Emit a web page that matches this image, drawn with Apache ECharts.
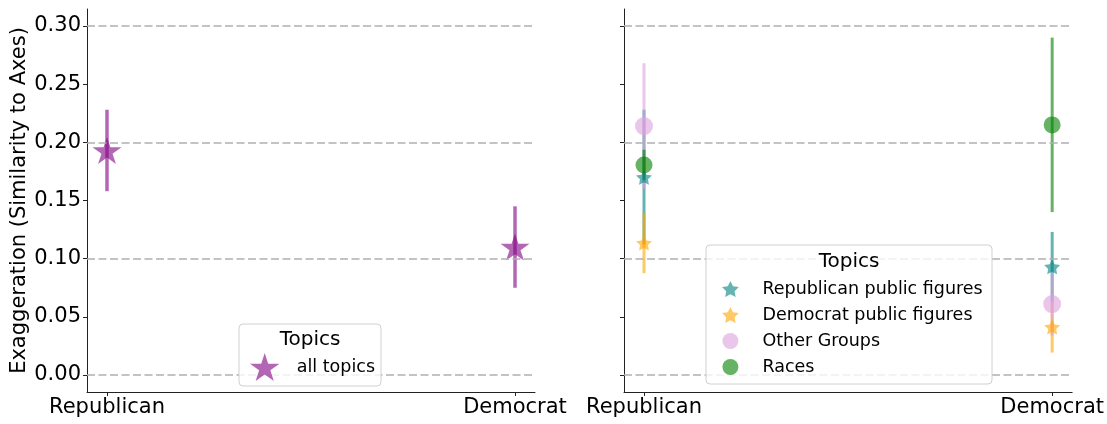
<!DOCTYPE html>
<html>
<head>
<meta charset="utf-8">
<script src="https://cdn.jsdelivr.net/npm/echarts@6/dist/echarts.min.js"></script>
<style>
html,body{margin:0;padding:0;background:#fff;}
#chart{width:1107px;height:424px;}
</style>
</head>
<body>
<div id="chart"></div>
<script>
// ---- data ----
const xCategories = ['Republican', 'Democrat'];
const yTicks = [0, 0.05, 0.10, 0.15, 0.20, 0.25, 0.30];
const gridValues = [0, 0.1, 0.2, 0.3];

const allTopicsMean = [0.193, 0.110];
const allTopicsErr  = [0.035, 0.035];

const repFiguresMean = [0.170, 0.093];
const repFiguresErr  = [0.058, 0.030];
const demFiguresMean = [0.1135, 0.0413];
const demFiguresErr  = [0.026, 0.022];
const otherGroupsMean = [0.214, 0.061];
const otherGroupsErr  = [0.054, 0.027];
const racesMean = [0.1806, 0.215];
const racesErr  = [0.013, 0.075];

// ---- style ----
const STAR = 'path://M100 0 L122.45 69.1 L195.11 69.1 L136.33 111.8 L158.78 180.9 L100 138.2 L41.22 180.9 L63.67 111.8 L4.89 69.1 L77.55 69.1 Z';
const FATSTAR = 'path://M100 0 L129.4 59.5 L195.1 69.1 L147.6 115.5 L158.8 180.9 L100 150 L41.2 180.9 L52.4 115.5 L4.9 69.1 L70.6 59.5 Z';
const FONT = 'DejaVu Sans';
const YMIN = -0.0146, YMAX = 0.3146;

function pts(mean, err) { return mean.map((m, i) => [i, m, err[i]]); }

function errSeries(name, idx, mean, err, color, width) {
  return {
    type: 'custom', name: name + ' err', xAxisIndex: idx, yAxisIndex: idx,
    data: pts(mean, err), encode: { x: 0, y: 1 }, silent: true,
    renderItem: function (params, api) {
      const x = api.value(0), y = api.value(1), e = api.value(2);
      const a = api.coord([x, y - e]), b = api.coord([x, y + e]);
      return { type: 'line', shape: { x1: a[0], y1: a[1], x2: b[0], y2: b[1] },
               style: { stroke: color, lineWidth: width } };
    }
  };
}
function markSeries(name, idx, mean, err, color, symbol, size) {
  return {
    type: 'scatter', name: name, xAxisIndex: idx, yAxisIndex: idx,
    data: pts(mean, err), encode: { x: 0, y: 1 }, symbol: symbol, symbolSize: size,
    itemStyle: { color: color, opacity: 1 }, silent: true
  };
}
function gridSeries(idx) {
  return {
    type: 'scatter', name: 'grid' + idx, xAxisIndex: idx, yAxisIndex: idx, data: [], silent: true, z: 1,
    markLine: {
      silent: true, symbol: ['none', 'none'], label: { show: false },
      lineStyle: { color: '#b0b0b0', width: 1.5, type: [8, 3.5] },
      data: gridValues.map(v => ({ yAxis: v }))
    }
  };
}
function xAxis(idx) {
  return {
    type: 'value', gridIndex: idx, min: -0.049, max: 1.049,
    splitLine: { show: false },
    axisLine: { show: true, onZero: false, lineStyle: { color: '#222', width: 1 } },
    axisTick: { show: true, customValues: [0, 1], length: 4, lineStyle: { color: '#222' } },
    axisLabel: { customValues: [0, 1], formatter: v => xCategories[Math.round(v)], color: '#000',
                 fontSize: 21, fontFamily: FONT, margin: 5 }
  };
}
function yAxis(idx, showLabels) {
  const ax = {
    type: 'value', gridIndex: idx, min: YMIN, max: YMAX,
    splitLine: { show: false },
    axisLine: { show: true, onZero: false, lineStyle: { color: '#222', width: 1 } },
    axisTick: { show: true, customValues: yTicks, length: 4, lineStyle: { color: '#222' } },
    axisLabel: { show: showLabels, customValues: yTicks, formatter: v => v.toFixed(2), color: '#000',
                 fontSize: 21, fontFamily: FONT, margin: 6 }
  };
  if (showLabels) {
    ax.name = 'Exaggeration (Similarity to Axes)';
    ax.nameLocation = 'middle';
    ax.nameGap = 56;
    ax.nameTextStyle = { fontSize: 21, fontFamily: FONT, color: '#000' };
  }
  return ax;
}

const C_PURPLE = 'rgba(128,0,128,0.6)';
const C_TEAL = 'rgba(0,128,128,0.6)';
const C_ORANGE = 'rgba(255,165,0,0.6)';
const C_PLUM = 'rgba(221,160,221,0.6)';
const C_GREEN = 'rgba(0,128,0,0.6)';

const chart = echarts.init(document.getElementById('chart'), null, { renderer: 'canvas' });
chart.setOption({
  animation: false,
  backgroundColor: '#fff',
  grid: [
    { left: 87, top: 9, width: 448, height: 383 },
    { left: 624, top: 9, width: 449, height: 383 }
  ],
  xAxis: [xAxis(0), xAxis(1)],
  yAxis: [yAxis(0, true), yAxis(1, false)],
  legend: [
    { data: ['all topics'], left: 245, top: 348, orient: 'vertical', itemWidth: 54, itemHeight: 28,
      textStyle: { fontSize: 17.5, fontFamily: FONT, color: '#000' }, selectedMode: false, z: 60 },
    { data: ['Republican public figures', 'Democrat public figures', 'Other Groups', 'Races'],
      left: 717, top: 275, orient: 'vertical', itemWidth: 54, itemHeight: 16, itemGap: 8,
      textStyle: { fontSize: 17.5, fontFamily: FONT, color: '#000' }, selectedMode: false, z: 60 }
  ],
  graphic: [
    { type: 'rect', z: 50, shape: { x: 239, y: 324, width: 142, height: 62, r: 4 },
      style: { fill: 'rgba(255,255,255,0.8)', stroke: '#d0d0d0', lineWidth: 1 } },
    { type: 'text', z: 51, x: 310, y: 340,
      style: { text: 'Topics', fontSize: 20, fontFamily: FONT, fill: '#000', align: 'center', verticalAlign: 'middle' } },
    { type: 'rect', z: 50, shape: { x: 706, y: 245, width: 286, height: 139, r: 4 },
      style: { fill: 'rgba(255,255,255,0.8)', stroke: '#d0d0d0', lineWidth: 1 } },
    { type: 'text', z: 51, x: 849, y: 262,
      style: { text: 'Topics', fontSize: 20, fontFamily: FONT, fill: '#000', align: 'center', verticalAlign: 'middle' } }
  ],
  series: [
    gridSeries(0), gridSeries(1),
    errSeries('all topics', 0, allTopicsMean, allTopicsErr, C_PURPLE, 3.5),
    markSeries('all topics', 0, allTopicsMean, allTopicsErr, C_PURPLE, STAR, [29, 27]),
    errSeries('Republican public figures', 1, repFiguresMean, repFiguresErr, C_TEAL, 3),
    markSeries('Republican public figures', 1, repFiguresMean, repFiguresErr, C_TEAL, FATSTAR, [16, 15]),
    errSeries('Democrat public figures', 1, demFiguresMean, demFiguresErr, C_ORANGE, 3),
    markSeries('Democrat public figures', 1, demFiguresMean, demFiguresErr, C_ORANGE, FATSTAR, [16, 15]),
    errSeries('Other Groups', 1, otherGroupsMean, otherGroupsErr, C_PLUM, 3),
    markSeries('Other Groups', 1, otherGroupsMean, otherGroupsErr, C_PLUM, 'circle', 18),
    errSeries('Races', 1, racesMean, racesErr, C_GREEN, 3),
    markSeries('Races', 1, racesMean, racesErr, C_GREEN, 'circle', 17)
  ]
});
</script>
</body>
</html>
